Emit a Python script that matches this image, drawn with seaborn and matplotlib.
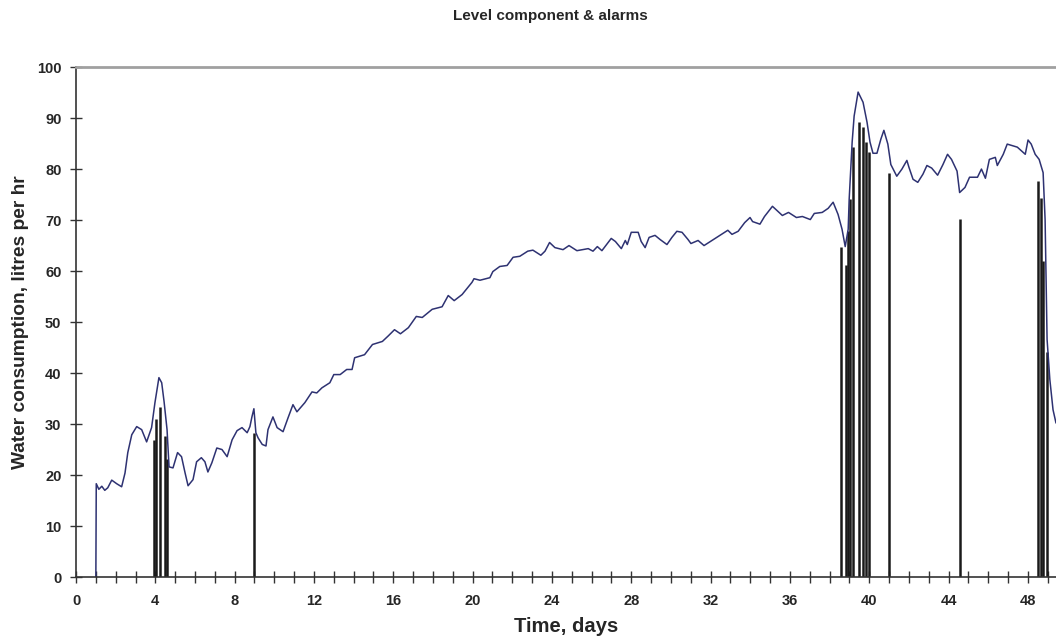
import numpy as np
import pandas as pd
import seaborn as sns
import matplotlib.pyplot as plt

# Level component
days = [1.0, 1.02, 1.15, 1.3, 1.45, 1.6, 1.8, 2.05, 2.3, 2.47, 2.61, 2.81, 3.06, 3.31, 3.56, 3.81,
        3.98, 4.18, 4.32, 4.44, 4.59, 4.69, 4.89, 5.12, 5.32, 5.5, 5.65, 5.9, 6.08, 6.32, 6.5, 6.65,
        6.85, 7.1, 7.36, 7.62, 7.87, 8.12, 8.37, 8.63, 8.77, 8.87, 8.97, 9.07, 9.18, 9.39, 9.58, 9.68,
        9.93, 10.14, 10.44, 10.69, 10.94, 11.14, 11.54, 11.9, 12.14, 12.4, 12.8, 13.0, 13.32, 13.65,
        13.92, 14.05, 14.55, 14.95, 15.45, 15.75, 16.06, 16.36, 16.76, 17.16, 17.46, 17.96, 18.46,
        18.77, 19.07, 19.47, 19.97, 20.07, 20.37, 20.87, 21.02, 21.37, 21.74, 22.04, 22.38, 22.78,
        23.04, 23.44, 23.65, 23.88, 24.15, 24.56, 24.86, 25.26, 25.83, 26.07, 26.29, 26.52, 26.99,
        27.2, 27.5, 27.7, 27.8, 28.0, 28.35, 28.5, 28.7, 28.9, 29.2, 29.45, 29.8, 30.05, 30.3, 30.56,
        30.86, 31.01, 31.37, 31.67, 32.07, 32.47, 32.87, 33.08, 33.39, 33.72, 33.99, 34.12, 34.49,
        34.72, 35.12, 35.62, 35.93, 36.33, 36.63, 37.03, 37.23, 37.63, 37.93, 38.18, 38.43, 38.63,
        38.79, 38.94, 38.99, 39.14, 39.24, 39.44, 39.69, 39.89, 40.04, 40.19, 40.39, 40.59, 40.74,
        40.94, 41.09, 41.39, 41.65, 41.9, 42.0, 42.21, 42.45, 42.71, 42.91, 43.15, 43.45, 43.72,
        43.95, 44.15, 44.43, 44.56, 44.83, 45.06, 45.46, 45.66, 45.86, 46.06, 46.36, 46.46, 46.76,
        46.96, 47.47, 47.87, 48.01, 48.17, 48.37, 48.57, 48.77, 48.87, 48.97, 49.11, 49.27, 49.42]
level = [0.0, 18.3, 17.2, 17.8, 17.0, 17.5, 19.0, 18.3, 17.7, 20.4, 24.4, 27.9, 29.5, 28.9, 26.5, 29.3,
         34.2, 39.1, 38.1, 34.4, 28.9, 21.6, 21.4, 24.4, 23.6, 20.4, 17.9, 19.1, 22.6, 23.4, 22.6, 20.6,
         22.4, 25.3, 25.0, 23.6, 26.9, 28.7, 29.3, 28.3, 29.5, 31.4, 33.0, 28.3, 27.3, 26.0, 25.7, 28.9,
         31.4, 29.3, 28.5, 31.2, 33.8, 32.4, 34.2, 36.3, 36.1, 37.1, 38.1, 39.7, 39.7, 40.7,
         40.7, 43.0, 43.6, 45.6, 46.2, 47.3, 48.5, 47.7, 48.9, 51.1, 50.9, 52.5, 53.0,
         55.2, 54.2, 55.4, 57.8, 58.5, 58.2, 58.7, 59.9, 60.9, 61.1, 62.7, 62.9, 63.9,
         64.1, 63.1, 63.9, 65.6, 64.6, 64.2, 65.0, 64.0, 64.4, 63.9, 64.8, 64.0, 66.4,
         65.8, 64.4, 66.0, 65.2, 67.6, 67.6, 65.8, 64.6, 66.6, 67.0, 66.2, 65.2, 66.6, 67.8, 67.6,
         66.2, 65.4, 66.0, 65.0, 66.0, 67.0, 68.0, 67.2, 67.8, 69.5, 70.5, 69.7, 69.2,
         70.7, 72.7, 70.9, 71.5, 70.5, 70.7, 70.1, 71.3, 71.5, 72.3, 73.5, 71.1, 68.2,
         64.8, 68.2, 74.1, 85.3, 90.4, 95.1, 93.1, 89.2, 85.3, 83.1, 83.1, 85.9, 87.6,
         84.9, 80.9, 78.6, 80.0, 81.7, 80.4, 78.0, 77.4, 79.0, 80.7, 80.2, 78.8, 80.9,
         82.9, 81.9, 79.6, 75.4, 76.4, 78.4, 78.4, 80.0, 78.2, 81.9, 82.3, 80.7, 82.9,
         84.9, 84.3, 82.9, 85.7, 84.9, 82.9, 81.9, 79.3, 70.1, 46.6, 38.7, 32.8, 30.2]

# Alarms
alarm_days = [3.93, 4.03, 4.24, 4.49, 4.59, 8.98, 38.58, 38.83, 38.93, 39.03, 39.18, 39.49,
              39.69, 39.84, 39.99, 41.0, 44.58, 48.51, 48.66, 48.76, 48.97]
alarm_level = [26.9, 31.0, 33.4, 27.7, 23.2, 28.3, 64.8, 61.1, 67.8, 74.1, 84.3, 89.2,
               88.2, 85.3, 83.3, 79.3, 70.3, 77.6, 74.3, 62.0, 44.2]

df = pd.DataFrame({"day": days, "level": level})

sns.set_style("white")
plt.rcParams["font.family"] = ["Liberation Sans", "DejaVu Sans"]

fig = plt.figure(figsize=(10.56, 6.39), dpi=100)
ax = fig.add_axes([0.072, 0.097, 0.928, 0.798])

ax.vlines(alarm_days, 0, alarm_level, color="#1a1a1a", linewidth=1.8)
sns.lineplot(data=df, x="day", y="level", ax=ax, color="#2e3272", linewidth=1.1)

ax.set_xlim(0, 49.42)
ax.set_ylim(0, 100)
ax.set_xticks(range(0, 49, 4))
ax.set_xticks(range(0, 50), minor=True)
ax.set_yticks(range(0, 101, 10))
ax.tick_params(axis="both", which="both", direction="inout", length=9, width=1,
               color="#333333", labelsize=10.5, bottom=True, left=True)
ax.tick_params(axis="x", which="major", pad=8)
ax.tick_params(axis="y", which="major", pad=6)
for lab in ax.get_xticklabels() + ax.get_yticklabels():
    lab.set_fontweight("bold")

for side in ["left", "bottom"]:
    ax.spines[side].set_color("#333333")
    ax.spines[side].set_linewidth(1.2)
ax.spines["top"].set_color("#a0a0a0")
ax.spines["top"].set_linewidth(2)
ax.spines["right"].set_visible(False)

ax.set_xlabel("Time, days", fontsize=14.6, fontweight="bold", labelpad=6)
ax.set_ylabel("Water consumption, litres per hr", fontsize=13.8, fontweight="bold", labelpad=6)
fig.text(0.521, 0.975, "Level component & alarms", ha="center", va="center",
         fontsize=11, fontweight="bold")

plt.savefig("out.png", dpi=100)
